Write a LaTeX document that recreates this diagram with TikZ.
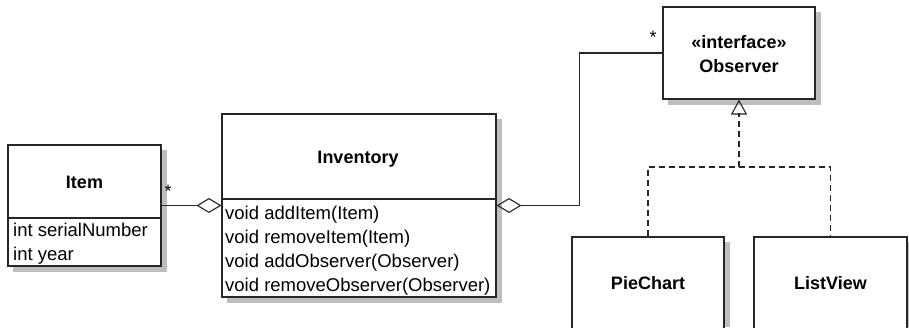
\documentclass[tikz,border=0pt]{standalone}
\usepackage{fontspec}
\setmainfont{Liberation Sans}
\usetikzlibrary{arrows.meta}
\definecolor{shadowgrey}{RGB}{190,190,190}
\begin{document}
\begin{tikzpicture}[x=1pt,y=-1pt,
  classbox/.style={draw=black!85, line width=1.1pt, fill=white, rectangle, inner sep=0pt},
  shadowfill/.style={fill=shadowgrey, draw=none},
  titletext/.style={font=\fontsize{18}{22}\selectfont\bfseries, inner sep=0pt, anchor=base},
  membertext/.style={font=\fontsize{18.5}{24}\selectfont, inner sep=0pt, anchor=base west},
  conn/.style={draw=black!85, line width=1.1pt},
  agg/.style={conn, {Diamond[open, length=25pt, width=15pt, line width=1.1pt]}-},
  real/.style={conn, -{Triangle[open, length=15pt, width=16pt, line width=1.1pt]}},
  dashconn/.style={conn, dash pattern=on 6pt off 4pt},
  mult/.style={font=\fontsize{18}{22}\selectfont, inner sep=0pt, anchor=base}]
\fill[white] (0,0) rectangle (909,327);
\useasboundingbox (0,0) rectangle (909,327);

% shadows
\fill[shadowfill] (13,150) rectangle (166.5,271.5);
\fill[shadowfill] (227,119) rectangle (501.5,302.5);
\fill[shadowfill] (668,12) rectangle (820.5,104.5);
\fill[shadowfill] (577,242) rectangle (729.5,327);
\fill[shadowfill] (759,242) rectangle (909,327);

% Item
\node[classbox, minimum width=153pt, minimum height=121pt] (item) at (84.5,205.5) {};
\draw[conn] (item.west |- 0,218) -- (item.east |- 0,218);
\node[titletext] (itemt) at (84.5,188) {Item};
\node[membertext] (itema1) at (13,236.5) {int serialNumber};
\node[membertext] (itema2) at (13,260.5) {int year};

% Inventory
\node[classbox, minimum width=274pt, minimum height=183pt] (inv) at (359,205.5) {};
\draw[conn] (inv.west |- 0,199) -- (inv.east |- 0,199);
\node[titletext] (invt) at (358,163) {Inventory};
\node[membertext] (invm1) at (225,219) {void addItem(Item)};
\node[membertext] (invm2) at (225,243.3) {void removeItem(Item)};
\node[membertext] (invm3) at (225,267.6) {void addObserver(Observer)};
\node[membertext] (invm4) at (225,291.9) {void removeObserver(Observer)};

% Observer
\node[classbox, minimum width=152pt, minimum height=92pt] (obs) at (739,53) {};
\node[titletext] (obst1) at (739,48) {«interface»};
\node[titletext] (obst2) at (739,72) {Observer};

% PieChart, ListView
\begin{scope}
\clip (0,0) rectangle (909,327);
\node[classbox, minimum width=152pt, minimum height=110pt] (pie) at (648,292) {};
\node[classbox, minimum width=153pt, minimum height=110pt] (list) at (830.5,292) {};
\end{scope}
\node[titletext] (piet) at (648,289) {PieChart};
\node[titletext] (listt) at (830.5,289) {ListView};

% associations
\draw[agg] (inv.west) -- (item.east);
\node[mult] (m1) at (168,197.5) {*};
\draw[agg] (inv.east) -- ++(83,0) |- (obs.west);
\node[mult] (m2) at (653,43.5) {*};

% realization
\coordinate (j) at (739,167);
\coordinate (tb) at (739,113);
\draw[dashconn] (pie.north) |- (j) -| (list.north);
\draw[dashconn] (j) -- (tb);
\draw[real] (tb) -- (obs.south);
\end{tikzpicture}
\end{document}
